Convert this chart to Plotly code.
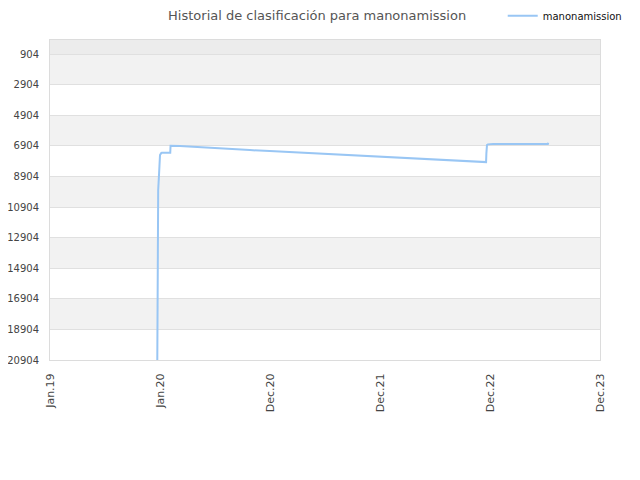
import plotly.graph_objects as go
import pandas as pd

# Data (dates and ranking positions)
dates = [
    "2019-12-23", "2019-12-24", "2019-12-26", "2019-12-29", "2020-01-01",
    "2020-01-05", "2020-01-07", "2020-02-04", "2020-02-05", "2020-03-07",
    "2020-04-20", "2020-06-15", "2020-08-20", "2020-10-25", "2020-12-30",
    "2021-03-07", "2021-05-12", "2021-07-14", "2021-09-16", "2021-11-21",
    "2022-01-27", "2022-04-02", "2022-06-05", "2022-08-10", "2022-10-15",
    "2022-12-05", "2022-12-18", "2022-12-19", "2022-12-21", "2022-12-24",
    "2023-01-10", "2023-07-11", "2023-07-12",
]
ranks = [
    20904, 12955, 9806, 8690, 7510,
    7380, 7359, 7359, 6900, 6910,
    6965, 7051, 7117, 7182, 7248,
    7313, 7379, 7445, 7510, 7595,
    7661, 7726, 7792, 7858, 7923,
    7969, 7969, 7398, 6854, 6808,
    6788, 6788, 6703,
]

y_ticks = [904, 2904, 4904, 6904, 8904, 10904, 12904, 14904, 16904, 18904, 20904]
x_tick_dates = ["2019-01-01", "2020-01-01", "2020-12-31", "2021-12-31", "2022-12-31", "2023-12-31"]
x_tick_labels = ["Jan.19", "Jan.20", "Dec.20", "Dec.21", "Dec.22", "Dec.23"]

series_name = "manonamission"
title_text = "Historial de clasificación para manonamission"

fig = go.Figure()
fig.add_trace(go.Scatter(
    x=pd.to_datetime(dates), y=ranks, mode="lines", name=series_name,
    line=dict(color="#99c6f4", width=2),
))

y_top = -14
shapes = [dict(type="rect", xref="paper", yref="y", x0=0, x1=1, y0=y_top, y1=y_ticks[0],
               fillcolor="#ececec", line=dict(width=0), layer="below")]
for i in range(0, len(y_ticks) - 1, 2):
    shapes.append(dict(type="rect", xref="paper", yref="y", x0=0, x1=1,
                       y0=y_ticks[i], y1=y_ticks[i + 1],
                       fillcolor="#f2f2f2", line=dict(width=0), layer="below"))

fig.update_layout(
    width=640, height=480,
    margin=dict(l=42, r=48, t=32, b=128, autoexpand=False),
    paper_bgcolor="white", plot_bgcolor="white",
    font=dict(family="DejaVu Sans", size=10, color="#444"),
    title=dict(text=title_text, x=0.483, xanchor="center", y=0.985, yanchor="middle",
               font=dict(family="DejaVu Sans", size=13, color="#555")),
    showlegend=True,
    legend=dict(x=0.773, y=0.984, xref="container", yref="container",
                xanchor="left", yanchor="middle",
                orientation="h", font=dict(size=10, color="#111"),
                bgcolor="rgba(0,0,0,0)", itemwidth=30),
    shapes=shapes,
    xaxis=dict(
        type="date", range=[x_tick_dates[0], x_tick_dates[-1]],
        tickvals=pd.to_datetime(x_tick_dates), ticktext=x_tick_labels,
        tickangle=-90, showgrid=False, zeroline=False, automargin=False,
        showline=True, linecolor="#dcdcdc", linewidth=1, mirror=True,
        ticks="", tickfont=dict(size=11, color="#444"), ticklabelstandoff=8,
    ),
    yaxis=dict(
        range=[y_ticks[-1], y_top], tickvals=y_ticks,
        ticktext=[str(v) for v in y_ticks], automargin=False,
        showgrid=True, gridcolor="#e0e0e0", gridwidth=1, zeroline=False,
        showline=True, linecolor="#dcdcdc", linewidth=1, mirror=True,
        ticks="", tickfont=dict(size=10, color="#444"), ticklabelstandoff=8,
    ),
)

fig.write_html("out.html")
